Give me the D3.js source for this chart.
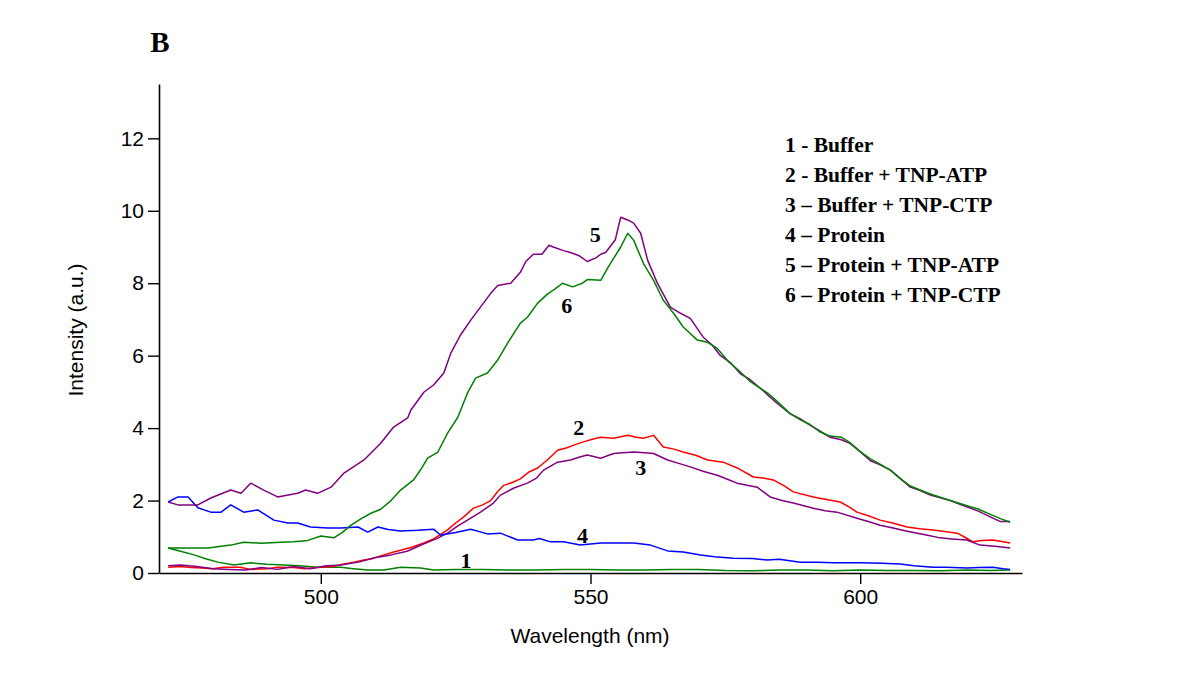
<!DOCTYPE html>
<html>
<head>
<meta charset="utf-8">
<script src="https://cdn.jsdelivr.net/npm/d3@7"></script>
<style>
  html, body { margin: 0; padding: 0; background: #fff; }
  svg { display: block; }
</style>
</head>
<body>
<svg id="chart" width="1200" height="687"></svg>
<script>
// ---- data (wavelength nm, intensity a.u.) ----
const panelLabel = "B";
const xTicks = [500, 550, 600];
const yTicks = [0, 2, 4, 6, 8, 10, 12];
const xTitle = "Wavelength (nm)";
const yTitle = "Intensity (a.u.)";
const legendLabels = [
  "1 - Buffer",
  "2 - Buffer + TNP-ATP",
  "3 \u2013 Buffer + TNP-CTP",
  "4 \u2013 Protein",
  "5 \u2013 Protein + TNP-ATP",
  "6 \u2013 Protein + TNP-CTP"
];

const s1 = [[471.7,0.69],[474,0.6],[476.5,0.5],[478.5,0.4],[480.9,0.3],[483.9,0.22],[487,0.28],[490,0.24],[493.1,0.22],[496,0.2],[499.4,0.16],[503.7,0.16],[506,0.12],[508.7,0.08],[511.7,0.08],[514.8,0.16],[518.5,0.14],[520.9,0.08],[525,0.1],[530,0.1],[535,0.08],[540,0.08],[545,0.1],[550,0.1],[555,0.08],[560,0.08],[565,0.1],[570,0.1],[575,0.07],[580,0.06],[585,0.08],[590,0.08],[595,0.06],[600,0.08],[605,0.07],[610,0.07],[615,0.06],[620,0.08],[624,0.07],[627.8,0.08]];
const s2 = [[471.7,0.16],[474,0.18],[476,0.15],[478,0.14],[480,0.12],[482,0.16],[485,0.16],[487,0.1],[490,0.12],[492,0.16],[495,0.15],[497,0.12],[500,0.16],[502.4,0.18],[504,0.24],[506.1,0.3],[508,0.36],[509.8,0.41],[511.7,0.5],[513.5,0.58],[514.8,0.63],[517,0.72],[519.1,0.83],[521,0.95],[523.5,1.19],[525,1.38],[526.5,1.55],[528.3,1.79],[530,1.88],[531.5,2.0],[532.8,2.25],[533.9,2.42],[535.5,2.5],[537,2.6],[538.5,2.78],[540.2,2.9],[542,3.12],[543.9,3.39],[545.5,3.45],[546.9,3.53],[548.7,3.62],[550.5,3.7],[551.9,3.75],[554.3,3.72],[556.9,3.8],[558.5,3.75],[559.8,3.72],[561.7,3.8],[563.5,3.48],[565.5,3.42],[567.2,3.34],[569.5,3.25],[571.7,3.12],[574.6,3.06],[577.2,2.9],[580.2,2.65],[582,2.62],[583.9,2.57],[586,2.4],[587.6,2.24],[591.3,2.1],[594,2.02],[596.3,1.96],[598,1.82],[599.4,1.68],[601.5,1.58],[603.7,1.46],[606,1.38],[608.7,1.27],[611,1.22],[613.5,1.19],[616,1.14],[618,1.1],[619.5,0.98],[620.9,0.86],[622.5,0.9],[624.6,0.91],[626.5,0.86],[627.8,0.83]];
const s3 = [[471.7,0.2],[474,0.22],[477,0.18],[480,0.12],[483,0.1],[486,0.08],[489,0.15],[492,0.1],[495,0.18],[498,0.12],[501,0.2],[503.7,0.22],[507,0.3],[510,0.42],[513,0.5],[516,0.6],[519,0.8],[521.5,0.95],[523.5,1.1],[525.4,1.3],[527.2,1.46],[529.6,1.68],[532,1.93],[533.3,2.15],[535.7,2.34],[538.3,2.48],[540,2.62],[541.3,2.84],[543.9,3.06],[546.3,3.12],[548,3.2],[549.4,3.26],[551.9,3.17],[554.3,3.3],[556,3.32],[558,3.34],[560,3.32],[561.7,3.3],[564.3,3.12],[566.5,3.02],[568.5,2.93],[571,2.8],[573.5,2.7],[575.5,2.58],[577.2,2.48],[580.9,2.37],[583.3,2.1],[585.5,2.0],[587.6,1.93],[591.3,1.79],[593.5,1.72],[595.7,1.68],[599.4,1.51],[601.5,1.42],[603.7,1.32],[606.1,1.24],[608.5,1.16],[610.6,1.1],[612.5,1.04],[614.8,0.97],[617,0.94],[619.8,0.91],[622.2,0.77],[625,0.74],[627.8,0.69]];
const s4 = [[471.7,1.96],[473.5,2.1],[475.4,2.1],[477.2,1.8],[479.6,1.68],[481.5,1.68],[483.3,1.88],[485.7,1.68],[488.3,1.74],[491.3,1.46],[493.9,1.38],[495.7,1.38],[498.1,1.27],[501.3,1.24],[503.7,1.24],[506.9,1.27],[508.7,1.13],[510.6,1.27],[512.5,1.2],[514.8,1.16],[518,1.18],[520.9,1.21],[522.2,1.05],[525,1.12],[527.8,1.21],[530.9,1.08],[533.3,1.1],[536.5,0.91],[539.4,0.91],[540.5,0.95],[542.6,0.86],[545,0.86],[548.1,0.77],[551.9,0.83],[555,0.83],[558,0.83],[561.1,0.77],[564.3,0.61],[567.2,0.58],[570.4,0.5],[573,0.45],[576.5,0.41],[580,0.4],[582.8,0.36],[585,0.38],[588.9,0.3],[592,0.3],[595,0.28],[600,0.28],[604,0.27],[607.4,0.25],[610,0.2],[613.5,0.16],[616,0.16],[619.8,0.14],[622,0.15],[624.6,0.16],[626.5,0.12],[627.8,0.1]];
const s5 = [[471.7,1.96],[473.5,1.88],[477.2,1.88],[479.6,2.07],[483.3,2.29],[485.2,2.2],[487,2.48],[489.4,2.29],[492,2.1],[495.7,2.2],[497.2,2.29],[499.4,2.2],[501.9,2.37],[504.3,2.76],[508,3.12],[511.1,3.58],[513.5,4.03],[516.1,4.28],[516.7,4.5],[519.1,4.99],[520.9,5.19],[522.8,5.52],[524.1,6.07],[525.9,6.57],[527.8,6.98],[529.6,7.34],[531.5,7.72],[532.8,7.94],[535.2,8.0],[537,8.3],[538,8.6],[539.4,8.8],[541,8.8],[542.3,9.05],[543.1,9.0],[545,8.9],[546.3,8.85],[548,8.75],[549.4,8.6],[551,8.7],[551.9,8.8],[552.8,8.85],[554.6,9.2],[555.6,9.82],[557,9.74],[558,9.66],[559.3,9.38],[560.6,8.63],[562.4,8.0],[564.8,7.34],[566.7,7.17],[568.5,7.03],[570.9,6.51],[572.5,6.3],[574.1,6.0],[576,5.8],[577.8,5.5],[579.5,5.35],[581.5,5.1],[584.3,4.72],[587,4.4],[589,4.25],[590.7,4.08],[592.5,3.92],[594.4,3.75],[596.5,3.68],[598.1,3.58],[600,3.35],[601.9,3.1],[603.5,3.0],[605.6,2.84],[607.5,2.6],[609.3,2.37],[611,2.28],[613,2.15],[616.7,2.0],[618.5,1.9],[620.4,1.79],[622,1.7],[624.1,1.55],[626,1.42],[627.8,1.42]];
const s6 = [[471.7,0.69],[475,0.69],[479.1,0.69],[483.3,0.77],[485.7,0.85],[489,0.82],[492.6,0.85],[495,0.86],[497.6,0.9],[500,1.02],[502.4,0.97],[504,1.12],[505.6,1.32],[507.5,1.5],[509.3,1.65],[511.1,1.76],[513,2.0],[514.8,2.29],[517.2,2.57],[518.5,2.85],[519.8,3.17],[521.7,3.34],[523.5,3.86],[525.4,4.3],[527.2,4.97],[528.7,5.38],[530.9,5.52],[532.8,5.88],[534.6,6.34],[537,6.9],[538.3,7.06],[540.2,7.45],[542,7.7],[543.5,7.85],[544.8,8.0],[546.7,7.9],[548.5,8.0],[549.4,8.1],[551.9,8.08],[553.3,8.45],[555.6,9.0],[556.9,9.38],[558,9.19],[559.8,8.55],[561.7,8.08],[563.5,7.53],[565.4,7.17],[567.2,6.79],[569.8,6.43],[571.7,6.37],[573.5,6.2],[575.5,5.85],[577.8,5.55],[579.5,5.3],[581.5,5.1],[583,4.95],[584.3,4.78],[587,4.4],[589,4.22],[590.7,4.1],[592.5,3.9],[594.4,3.78],[596.5,3.75],[598.1,3.6],[600,3.35],[601.9,3.15],[603.5,3.02],[605.6,2.84],[607.5,2.6],[609.3,2.4],[611,2.3],[613,2.18],[616.7,2.0],[618.5,1.92],[620.4,1.83],[622,1.76],[624.1,1.62],[626,1.5],[627.8,1.4]];

const seriesData = [s1, s2, s3, s4, s5, s6];
const seriesColors = ["#008000", "#ff0000", "#800080", "#0000ff", "#800080", "#008000"];
const curveLabels = ["1", "2", "3", "4", "5", "6"];
// label anchor positions in data units (baseline)
const curveLabelPos = [[526.9, 0.14], [547.8, 3.81], [559.3, 2.71], [548.5, 0.83], [550.9, 9.14], [545.6, 7.18]];

// ---- layout ----
const svg = d3.select("#chart");
const x = d3.scaleLinear().domain([470, 630]).range([159, 1022]);
const y = d3.scaleLinear().domain([0, 13.5]).range([573, 84]);

const fontSans = "Liberation Sans, Arial, sans-serif";
const fontSerif = "Liberation Serif, Times New Roman, serif";

// axes
const xAxis = d3.axisBottom(x).tickValues(xTicks).tickSize(11).tickSizeOuter(0).tickPadding(5);
const yAxis = d3.axisLeft(y).tickValues(yTicks).tickSize(11).tickSizeOuter(0).tickPadding(4);

const gx = svg.append("g").attr("transform", `translate(0,${y(0)})`).call(xAxis);
const gy = svg.append("g").attr("transform", `translate(${x(470)},0)`).call(yAxis);
[gx, gy].forEach(g => {
  g.select(".domain").attr("stroke", "#000").attr("stroke-width", 1.6);
  g.selectAll(".tick line").attr("stroke", "#000").attr("stroke-width", 1.4);
  g.selectAll(".tick text").attr("fill", "#000").style("font-family", fontSans).style("font-size", "21px");
});

// axis titles
svg.append("text")
  .attr("x", 590).attr("y", 643)
  .attr("text-anchor", "middle")
  .style("font-family", fontSans).style("font-size", "21px").attr("fill", "#000")
  .text(xTitle);
svg.append("text")
  .attr("transform", "translate(83,330) rotate(-90)")
  .attr("text-anchor", "middle")
  .style("font-family", fontSans).style("font-size", "21px").attr("fill", "#000")
  .text(yTitle);

// panel label
svg.append("text")
  .attr("x", 160).attr("y", 52)
  .attr("text-anchor", "middle")
  .style("font-family", fontSerif).style("font-size", "29px").style("font-weight", "bold")
  .attr("fill", "#000")
  .text(panelLabel);

// lines
const line = d3.line().x(d => x(d[0])).y(d => y(d[1]));
seriesData.forEach((s, i) => {
  svg.append("path")
    .datum(s)
    .attr("fill", "none")
    .attr("stroke", seriesColors[i])
    .attr("stroke-width", 1.5)
    .attr("stroke-linejoin", "round")
    .attr("d", line);
});

// curve number labels
curveLabels.forEach((t, i) => {
  svg.append("text")
    .attr("x", x(curveLabelPos[i][0])).attr("y", y(curveLabelPos[i][1]))
    .attr("text-anchor", "middle")
    .style("font-family", fontSerif).style("font-size", "22px").style("font-weight", "bold")
    .attr("fill", "#000")
    .text(t);
});

// legend (text only)
legendLabels.forEach((t, i) => {
  svg.append("text")
    .attr("x", 785).attr("y", 152 + i * 30)
    .style("font-family", fontSerif).style("font-size", "21.5px").style("font-weight", "bold")
    .attr("fill", "#000")
    .text(t);
});
</script>
</body>
</html>
